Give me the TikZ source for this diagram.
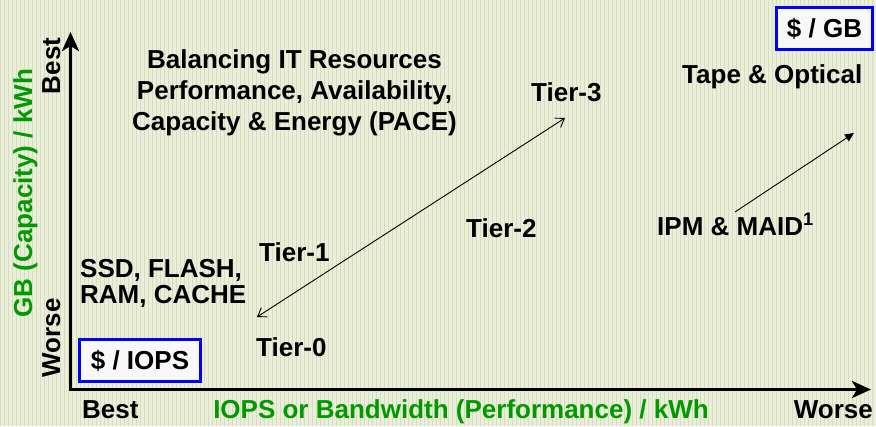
\documentclass[tikz,border=0pt]{standalone}
\usepackage{fontspec}
\setmainfont{Liberation Sans}
\usetikzlibrary{calc, arrows.meta}

\definecolor{paper}{RGB}{234,238,218}
\definecolor{plaid}{RGB}{214,223,188}
\definecolor{axisgreen}{RGB}{0,153,0}
\definecolor{boxblue}{RGB}{0,0,255}
\definecolor{boxfill}{RGB}{248,248,248}

\begin{document}
\begin{tikzpicture}[x=1pt, y=-1pt,
    word/.style={font=\fontsize{26}{26}\selectfont\bfseries, inner sep=0pt},
    greenword/.style={word, text=axisgreen},
    costbox/.style={word, draw=boxblue, line width=3pt, fill=boxfill},
    axisline/.style={line width=3.5pt, line join=miter,
        {Stealth[length=19pt,width=17pt,inset=5pt]}-{Stealth[length=19pt,width=17pt,inset=5pt]}},
    tierarrow/.style={line width=0.9pt,
        {Straight Barb[length=8pt,width=11pt]}-{Straight Barb[length=8pt,width=11pt]}},
    maidarrow/.style={line width=0.9pt, -{Triangle[length=9pt,width=8pt]}}]
    % --- Definitions ---
    % Canvas is 876 x 426, y runs downwards
    \useasboundingbox (0,0) rectangle (876,426);
    % Corner of the axes and the two arrow tips
    \coordinate (origin) at (70.5,389.5);
    \coordinate (ytip) at (70.5,32);
    \coordinate (xtip) at (871,389.5);
    % Ends of the two thin arrows
    \coordinate (tierlow) at (257,317);
    \coordinate (tierhigh) at (565,118);
    \coordinate (maidstart) at (735,212);
    \coordinate (maidtip) at (854,133);

    % --- Drawing ---

    % 1. Background paper
    \fill[paper] (0,0) rectangle (876,426);
    \draw[plaid, line width=0.8pt, step=4] (0,0) grid (876,426);

    % 2. Axes
    \draw[axisline] (ytip) -- (origin) -- (xtip);

    % 3. Arrows between the tiers
    \draw[tierarrow] (tierlow) -- (tierhigh);
    \draw[maidarrow] (maidstart) -- (maidtip);

    % --- Labels ---
    % Axis titles
    \node[word, rotate=90, anchor=base] (ybest) at (60,66) {Best};
    \node[word, rotate=90, anchor=base] (yworse) at (60,338) {Worse};
    \node[greenword, rotate=90, anchor=base] (ytitle) at (32,193) {GB (Capacity) / kWh};
    \node[word, anchor=base west] (xbest) at (82,418) {Best};
    \node[greenword, anchor=base] (xtitle) at (461,418) {IOPS or Bandwidth (Performance) / kWh};
    \node[word, anchor=base east] (xworse) at (873,418) {Worse};

    % Headline block
    \node[word, align=center, anchor=north, font=\fontsize{26}{31}\selectfont\bfseries]
        (pace) at (294.5,49) {Balancing IT Resources\\Performance, Availability,\\Capacity \& Energy (PACE)};

    % Tiers
    \node[word, anchor=base west] (tier3) at (531,101) {Tier-3};
    \node[word, anchor=base west] (tier2) at (466,237) {Tier-2};
    \node[word, anchor=base west] (tier1) at (259,261) {Tier-1};
    \node[word, anchor=base west] (tier0) at (256,356) {Tier-0};

    % Media
    \node[word, anchor=base west, align=left, font=\fontsize{26}{26}\selectfont\bfseries]
        (ssd) at (80,303) {SSD, FLASH,\\RAM, CACHE};
    \node[word, anchor=base west] (tape) at (682,83) {Tape \& Optical};
    \node[word, anchor=base west] (maid) at (657,235) {IPM \& MAID\textsuperscript{1}};

    % Cost boxes
    \node[costbox, minimum width=121pt, minimum height=42pt] (iops) at (140,360.5) {\$ / IOPS};
    \node[costbox, minimum width=96pt, minimum height=42pt] (gb) at (824.5,28.5) {\$ / GB};

\end{tikzpicture}
\end{document}
